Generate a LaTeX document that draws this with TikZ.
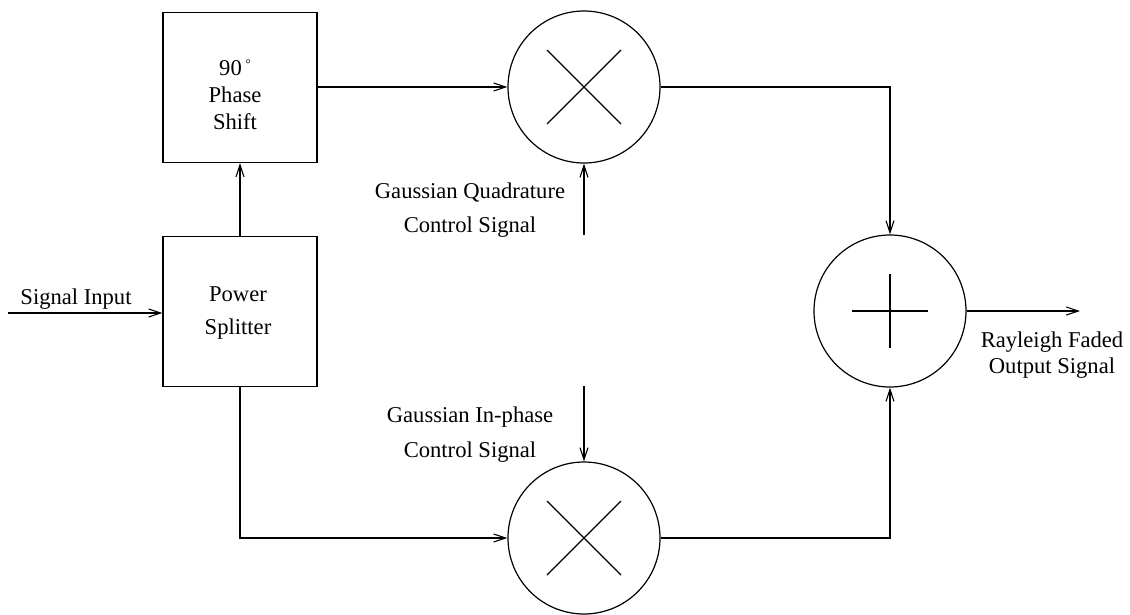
\documentclass[tikz,border=0pt]{standalone}
\usepackage{fontspec}
\setmainfont{Liberation Serif}
\usetikzlibrary{arrows.meta,calc}

\tikzset{
  blk/.style={draw, line width=1.2pt, minimum width=154pt, minimum height=150pt, inner sep=0pt},
  mixer/.style={draw, circle, line width=1.2pt, minimum size=152pt, inner sep=0pt},
  lbl/.style={align=center, inner sep=0pt, font=\fontsize{22.6}{#1}\selectfont},
  lbl/.default=34,
  wire/.style={line width=1.2pt},
  sig/.style={wire, -{Straight Barb[length=12pt,width=8pt,line width=1.1pt]}},
  crossline/.style={line width=1.2pt}
}
% small raised degree ring
\newcommand{\smalldeg}{\,\raisebox{7pt}{\fontsize{13}{13}\selectfont °}}

\begin{document}
\begin{tikzpicture}[x=1pt, y=-1pt]
  \useasboundingbox (0,0) rectangle (1130,614);

  % blocks
  \node[blk] (phase) at (240,87.5) {};
  \node[blk] (split) at (240,311.5) {};
  \node[lbl=27] (phasetxt) at (235,95) {90\smalldeg\\Phase\\Shift};
  \node[lbl=33] (splittxt) at (238,313) {Power\\Splitter};

  % multipliers and summer
  \node[mixer] (mulq) at (584,87) {};
  \node[mixer] (muli) at (584,538) {};
  \node[mixer] (sum) at (890,311) {};
  \draw[crossline] ($(mulq)+(-37,-37)$) -- ($(mulq)+(37,37)$);
  \draw[crossline] ($(mulq)+(-37,37)$) -- ($(mulq)+(37,-37)$);
  \draw[crossline] ($(muli)+(-37,-37)$) -- ($(muli)+(37,37)$);
  \draw[crossline] ($(muli)+(-37,37)$) -- ($(muli)+(37,-37)$);
  \draw[crossline] ($(sum)+(-38,0)$) -- ($(sum)+(38,0)$);
  \draw[crossline] ($(sum)+(0,-37)$) -- ($(sum)+(0,37)$);

  % free ends
  \coordinate (in) at (8,313);
  \coordinate (qin) at (584,235);
  \coordinate (iin) at (584,386);
  \coordinate (out) at (1080,311);

  % labels
  \node[lbl] (intxt) at (76,299) {Signal Input};
  \node[lbl] (qtxt) at (470,210) {Gaussian Quadrature\\Control Signal};
  \node[lbl=35] (itxt) at (470,435) {Gaussian In-phase\\Control Signal};
  \node[lbl=26] (outtxt) at (1052,355) {Rayleigh Faded\\Output Signal};

  % connections
  \draw[sig] (in) -- (in -| split.west);
  \draw[sig] (split.north) -- (phase.south);
  \draw[sig] (mulq.west -| phase.east) -- (mulq.west);
  \draw[sig] (split.south) |- (muli.west);
  \draw[sig] (qin) -- (mulq.south);
  \draw[sig] (iin) -- (muli.north);
  \draw[sig] (mulq.east) -| (sum.north);
  \draw[sig] (muli.east) -| (sum.south);
  \draw[sig] (sum.east) -- (out);
\end{tikzpicture}
\end{document}
